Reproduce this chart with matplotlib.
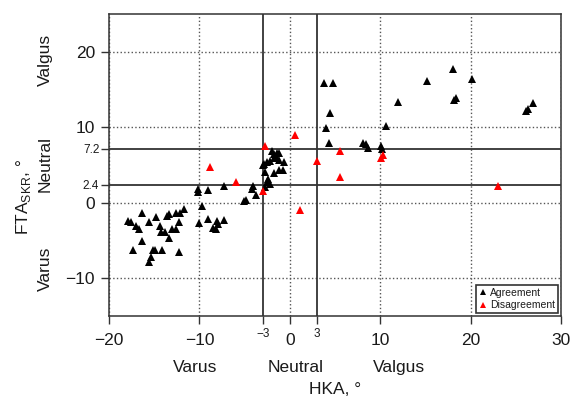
import matplotlib
matplotlib.use("Agg")
import matplotlib.pyplot as plt
import matplotlib.transforms as mtransforms

plt.rcParams['font.family'] = ['Liberation Sans', 'DejaVu Sans']
plt.rcParams['mathtext.fontset'] = 'custom'
plt.rcParams['mathtext.rm'] = 'Liberation Sans'
plt.rcParams['axes.unicode_minus'] = True

# HKA (x) and FTA_SKR (y) in degrees
hka_agree = [-16.4, -17.9, -17.6, -17.0, -16.7, -15.6, -14.8, -14.4, -14.2, -13.8,
             -13.6, -13.4, -13.0, -12.6, -13.4, -12.6, -12.2, -11.7, -12.3, -16.4,
             -17.4, -15.1, -14.9, -14.1, -12.3, -15.4, -15.6,
             -10.2, -10.2, -9.0, -7.3, -9.7, -10.0, -9.0, -8.0, -7.9, -8.5, -8.2, -7.3,
             -4.9, -5.1, -4.1, -4.2, -3.7,
             -2.0, -1.7, -1.4, -1.2, -1.5, -1.8, -2.2, -2.5, -2.8, -1.2, -0.6, -3.0,
             -2.7, -1.8, -1.2, -0.7, -2.4, -2.5, -2.2, -2.7,
             3.8, 4.8, 4.5, 4.0, 4.3, 8.1, 8.4, 8.6, 10.1, 10.2, 10.6, 12.0,
             15.2, 18.1, 20.1, 18.4, 18.2, 26.9, 26.3, 26.1]
fta_agree = [-1.3, -2.4, -2.6, -3.1, -3.4, -2.5, -1.9, -3.1, -3.8, -3.8,
             -1.8, -1.5, -3.5, -3.5, -4.6, -1.4, -1.3, -0.8, -2.5, -5.1,
             -6.3, -6.2, -6.2, -6.2, -6.5, -7.2, -7.8,
             1.9, 1.4, 1.7, 2.2, -0.4, -2.7, -2.2, -2.4, -2.8, -3.3, -3.5, -2.3,
             0.4, 0.3, 2.2, 1.9, 1.1,
             6.9, 6.5, 6.6, 6.6, 6.2, 5.9, 5.6, 5.4, 5.1, 5.7, 5.4, 5.0,
             4.1, 3.9, 4.4, 4.3, 3.2, 2.8, 2.5, 2.1,
             15.9, 15.9, 11.9, 9.9, 8.0, 8.0, 7.8, 7.3, 7.5, 7.1, 10.2, 13.4,
             16.2, 17.8, 16.4, 13.9, 13.6, 13.2, 12.5, 12.2]

hka_disagree = [0.55, -2.7, -8.8, -6.0, -2.95, 1.1, 3.0, 5.6, 5.6, 10.3, 10.1, 23.0]
fta_disagree = [9.0, 7.5, 4.7, 2.8, 1.6, -1.0, 5.6, 6.9, 3.4, 6.3, 5.9, 2.2]

x_major = [-20, -10, 0, 10, 20, 30]
x_minor = [-3, 3]
x_minor_labels = ['\u22123', '3']
y_major = [-10, 0, 10, 20]
y_minor = [2.4, 7.2]
y_minor_labels = ['2.4', '7.2']

x_groups = ['Varus', 'Neutral', 'Valgus']
x_group_pos = [-10.5, 0.6, 12.1]
y_groups = ['Varus', 'Neutral', 'Valgus']
y_group_pos = [-8.7, 5.1, 19.0]

txt = '#1a1a1a'
line_col = '#333333'

fig = plt.figure(figsize=(5.71, 3.98), dpi=100)
ax = fig.add_axes([0.1909, 0.206, 0.7916, 0.758])

ax.plot(hka_agree, fta_agree, '^', color='black', markersize=5.5, markeredgewidth=0,
        label='Agreement', zorder=4)
ax.plot(hka_disagree, fta_disagree, '^', color='red', markersize=5.5, markeredgewidth=0,
        label='Disagreement', zorder=4)

# neutral band limits
for xv in x_minor:
    ax.axvline(xv, color=line_col, lw=1.3, zorder=2)
for yv in y_minor:
    ax.axhline(yv, color=line_col, lw=1.3, zorder=2)

ax.set_xlim(-20, 30)
ax.set_ylim(-15, 25)
ax.set_xticks(x_major)
ax.set_yticks(y_major)
ax.set_xticks(x_minor, minor=True)
ax.set_xticklabels(x_minor_labels, minor=True)
ax.set_yticks(y_minor, minor=True)
ax.set_yticklabels(y_minor_labels, minor=True)

ax.grid(True, which='major', linestyle=':', color='#555555', linewidth=1.0, zorder=1)
ax.set_axisbelow(True)

ax.tick_params(which='major', direction='out', length=5.5, width=1.0, color=line_col,
               labelsize=12.5, labelcolor=txt)
ax.tick_params(axis='x', which='major', pad=6.5)
ax.tick_params(axis='y', which='major', pad=4.5)
ax.tick_params(which='minor', direction='out', length=5.5, width=1.0, color=line_col,
               labelsize=8.5, labelcolor=txt)
ax.tick_params(axis='x', which='minor', pad=3)
ax.tick_params(axis='y', which='minor', pad=1.5)

for sp in ax.spines.values():
    sp.set_color(line_col)
    sp.set_linewidth(1.1)

ax.set_xlabel('HKA, \u00b0', fontsize=12.5, color=txt)
ax.xaxis.set_label_coords(0.5, -0.218)
ax.set_ylabel('FTA$_{\\mathrm{SKR}}$, \u00b0', fontsize=12.5, color=txt)
ax.yaxis.set_label_coords(-0.168, 0.393)

bx = mtransforms.blended_transform_factory(ax.transData, ax.transAxes)
for name, pos in zip(x_groups, x_group_pos):
    ax.text(pos, -0.172, name, transform=bx, ha='center', va='center',
            fontsize=12.5, color=txt)
by = mtransforms.blended_transform_factory(ax.transAxes, ax.transData)
for name, pos in zip(y_groups, y_group_pos):
    ax.text(-0.1416, pos, name, transform=by, ha='center', va='center',
            rotation=90, fontsize=12.5, color=txt)

leg = ax.legend(loc='lower right', fontsize=7.5, frameon=True, fancybox=False,
                edgecolor='black', borderaxespad=0.25, handlelength=0.8,
                handletextpad=0.3, borderpad=0.3, labelspacing=0.25, markerscale=0.75)
leg.get_frame().set_linewidth(1.2)
for t in leg.get_texts():
    t.set_color(txt)

fig.savefig('out.png', dpi=100)
